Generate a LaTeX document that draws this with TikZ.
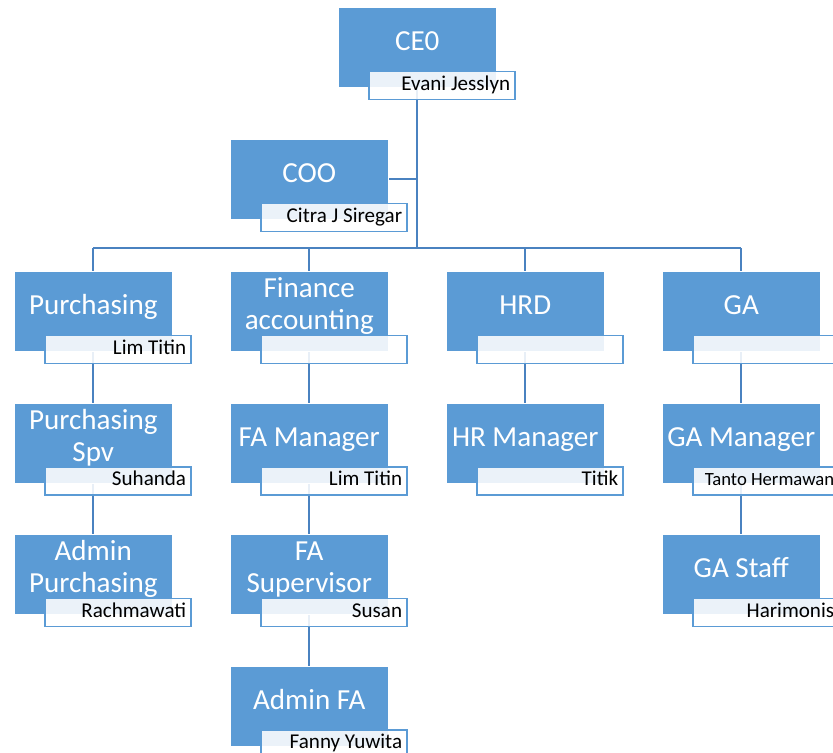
\documentclass[tikz,border=0pt]{standalone}
\usepackage{fontspec}
\setmainfont{Carlito}
\usepackage{tikz}
\usetikzlibrary{
    calc,
    backgrounds
}
\definecolor{unitblue}{HTML}{5B9BD5}
\definecolor{linkblue}{HTML}{4A82C0}
\tikzset{unit/.style={anchor=north west, inner sep=0pt, fill=unitblue, draw=white, line width=0.4pt, minimum width=118.5pt, minimum height=60pt, text=white, align=center, font=\fontsize{21.8}{24}\selectfont, text height=15pt, text depth=10pt}}
\tikzset{unittwo/.style={unit, text height=38pt}}
\tikzset{person/.style={anchor=north west, inner xsep=3.5pt, inner ysep=0pt, fill=white, fill opacity=0.88, text opacity=1, draw=unitblue, line width=1.2pt, minimum width=109.5pt, minimum height=21pt, text width=102.5pt, align=flush right, font=\fontsize{15.8}{17}\selectfont, text height=11pt, text depth=3.5pt}}
\tikzset{link/.style={draw=linkblue, line width=1.6pt}}

\begin{document}
\begin{tikzpicture}[x=0.75pt, y=-0.75pt]
                        \useasboundingbox (0, 0) rectangle (833, 753);
                        \node[unit] (ceo) at (338, 7) {CE0};
                        \node[person] (ceop) at ($(ceo.south west) + (30, -17)$) {Evani Jesslyn};
                        \node[unit] (coo) at (230, 139) {COO};
                        \node[person] (coop) at ($(coo.south west) + (30, -17)$) {Citra J Siregar};

                        \node[unit] (pur) at (14, 271) {Purchasing};
                        \node[person] (purp) at ($(pur.south west) + (30, -17)$) {Lim Titin};
                        \node[unittwo] (pspv) at (14, 402.5) {Purchasing\\Spv};
                        \node[person] (pspvp) at ($(pspv.south west) + (30, -17)$) {Suhanda};
                        \node[unittwo] (apur) at (14, 534) {Admin\\Purchasing};
                        \node[person] (apurp) at ($(apur.south west) + (30, -17)$) {Rachmawati};

                        \node[unittwo] (fin) at (230, 271) {Finance\\accounting};
                        \node[person] (finp) at ($(fin.south west) + (30, -17)$) {};
                        \node[unit] (fam) at (230, 402.5) {FA Manager};
                        \node[person] (famp) at ($(fam.south west) + (30, -17)$) {Lim Titin};
                        \node[unittwo] (fas) at (230, 534) {FA\\Supervisor};
                        \node[person] (fasp) at ($(fas.south west) + (30, -17)$) {Susan};
                        \node[unit] (afa) at (230, 665.5) {Admin FA};
                        \node[person] (afap) at ($(afa.south west) + (30, -17)$) {Fanny Yuwita};

                        \node[unit] (hrd) at (446, 271) {HRD};
                        \node[person] (hrdp) at ($(hrd.south west) + (30, -17)$) {};
                        \node[unit] (hrm) at (446, 402.5) {HR Manager};
                        \node[person] (hrmp) at ($(hrm.south west) + (30, -17)$) {Titik};

                        \node[unit] (ga) at (662, 271) {GA};
                        \node[person] (gap) at ($(ga.south west) + (30, -17)$) {};
                        \node[unit] (gam) at (662, 402.5) {GA Manager};
                        \node[person, font=\fontsize{14}{16}\selectfont] (gamp) at ($(gam.south west) + (30, -17)$) {Tanto Hermawan};
                        \node[unit] (gas) at (662, 534) {GA Staff};
                        \node[person] (gasp) at ($(gas.south west) + (30, -17)$) {Harimonis};

                        \coordinate (bar) at (0, 248);
                        \begin{scope}[on background layer]
                        \draw[link] (ceo.center) -- (ceo.center |- bar);
                        \draw[link] (coo.center) -- (coo.center -| ceo.center);
                        \draw[link] (pur.center |- bar) -- (ga.center |- bar);
                        \draw[link]
                        (pur.center) -- (pur.center |- bar)
                        (fin.center) -- (fin.center |- bar)
                        (hrd.center) -- (hrd.center |- bar)
                        (ga.center) -- (ga.center |- bar);
                        \draw[link] (pur.center) -- (pspv.center) -- (apur.center);
                        \draw[link] (fin.center) -- (fam.center) -- (fas.center) -- (afa.center);
                        \draw[link] (hrd.center) -- (hrm.center);
                        \draw[link] (ga.center) -- (gam.center) -- (gas.center);
                        \end{scope}
                    \end{tikzpicture}
\end{document}
